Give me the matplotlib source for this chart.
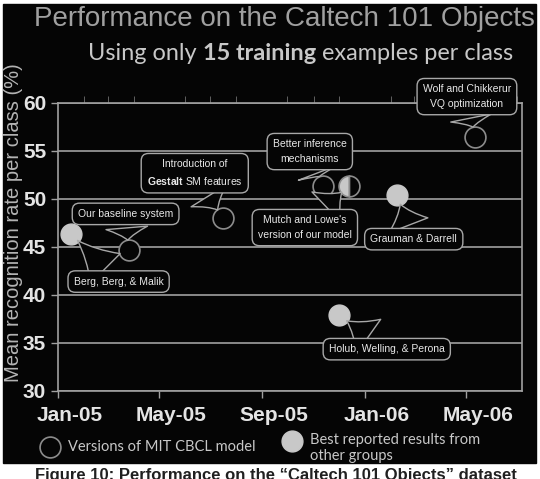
import matplotlib
matplotlib.use("Agg")
import matplotlib.dates as mdates
import matplotlib.pyplot as plt
import matplotlib.transforms as mtransforms
from matplotlib.lines import Line2D
from matplotlib.patches import Rectangle
import pandas as pd

# MIT CBCL model versions
cbcl_dates = ["2005-03-26", "2005-07-16", "2005-11-12", "2006-05-12"]
cbcl_rates = [44.7, 48.0, 51.4, 56.5]
# best reported results from other groups
other_dates = ["2005-01-16", "2005-12-01", "2006-02-08"]
other_rates = [46.4, 37.9, 50.4]
# Mutch and Lowe's version (half / half)
mutch_date = "2005-12-13"
mutch_rate = 51.4

callout_texts = [
    "Our baseline system",
    "Berg, Berg, & Malik",
    "Introduction of\n$\\bf{Gestalt}$ SM features",
    "Better inference\nmechanisms",
    "Mutch and Lowe's\nversion of our model",
    "Grauman & Darrell",
    "Holub, Welling, & Perona",
    "Wolf and Chikkerur\nVQ optimization",
]
callout_dates = [cbcl_dates[0], other_dates[0], cbcl_dates[1], cbcl_dates[2],
                 mutch_date, other_dates[2], other_dates[1], cbcl_dates[3]]
callout_rates = [cbcl_rates[0], other_rates[0], cbcl_rates[1], cbcl_rates[2],
                 mutch_rate, other_rates[2], other_rates[1], cbcl_rates[3]]
# box centre relative to the point, in pixels (layout only)
callout_offsets = [(-3, 36), (48, -48), (-28, 45), (-13, 34),
                   (-44, -42), (17, -44), (48, -34), (-8, 40)]

W, H = 540, 479
BG = "#050505"
LINE = "#a0a0a0"
LIGHT = "#c8c8c8"

plt.rcParams["mathtext.fontset"] = "custom"
plt.rcParams["mathtext.rm"] = "Liberation Sans"
plt.rcParams["mathtext.bf"] = "Liberation Sans:bold"

fig = plt.figure(figsize=(W / 100, H / 100), dpi=100, facecolor="white")
fig.patches.append(Rectangle((3 / W, 1 - 463 / H), 533 / W, 459 / H,
                             transform=fig.transFigure, color=BG, zorder=-10))

ax = fig.add_axes([58 / W, 1 - 391 / H, (522 - 58) / W, (391 - 103) / H])
ax.set_facecolor(BG)

ax.set_ylim(30, 60)
ax.set_xlim(pd.Timestamp("2005-01-01"), pd.Timestamp("2006-07-07"))
ax.set_yticks(range(30, 61, 5))
ax.yaxis.grid(True, color=LINE, lw=1.2)
ax.set_axisbelow(True)
for s in ax.spines.values():
    s.set_color(LINE)
    s.set_linewidth(1.2)

ax.xaxis.set_major_locator(mdates.MonthLocator(bymonth=[1, 5, 9]))
ax.xaxis.set_major_formatter(mdates.DateFormatter("%b-%y"))
ax.xaxis.set_minor_locator(mdates.MonthLocator())
ax.tick_params(axis="both", which="major", colors=LINE, length=5, width=1,
               labelcolor="#e4e4e4", labelsize=15)
ax.tick_params(axis="x", which="minor", top=True, bottom=False, length=5,
               color="#707070")
ax.tick_params(axis="x", pad=6)
for lab in ax.get_xticklabels() + ax.get_yticklabels():
    lab.set_fontfamily("Liberation Sans")
    lab.set_fontweight("bold")
shift = mtransforms.ScaledTranslation(0.12, 0, fig.dpi_scale_trans)
for lab in ax.get_xticklabels():
    lab.set_transform(lab.get_transform() + shift)

ax.set_ylabel("Mean recognition rate per class (%)", fontsize=14.5,
              color="#b4b4b4", family="Liberation Sans")
ax.yaxis.set_label_coords(-35 / (522 - 58), (391 - 223) / (391 - 103))

# points
ax.plot(pd.to_datetime(cbcl_dates), cbcl_rates, "o", ms=15, mfc=BG,
        mec="#8c8c8c", mew=1.2, zorder=3)
ax.plot(pd.to_datetime(other_dates), other_rates, "o", ms=15, mfc=LIGHT,
        mec=LIGHT, mew=1, zorder=3)
ax.plot([pd.Timestamp(mutch_date)], [mutch_rate], "o", ms=15, fillstyle="left",
        mfc=LIGHT, markerfacecoloralt=BG, mec="#8c8c8c", mew=1.2, zorder=3)

# speech-bubble callouts
for txt, d, r, (dx, dy) in zip(callout_texts, callout_dates, callout_rates,
                               callout_offsets):
    ax.annotate(txt, xy=(pd.Timestamp(d), r), xytext=(dx * 0.72, dy * 0.72),
                textcoords="offset points", ha="center", va="center",
                fontsize=7.5, family="Liberation Sans", color="#e8e8e8",
                linespacing=1.6, zorder=5, annotation_clip=False,
                bbox=dict(boxstyle="round,pad=0.55,rounding_size=0.7",
                          fc=BG, ec="#a8a8a8", lw=1),
                arrowprops=dict(arrowstyle="wedge,tail_width=4,shrink_factor=0.4",
                                fc=BG, ec="#a8a8a8", lw=1, shrinkB=7))

# titles
fig.text(284 / W, 1 - 19 / H, "Performance on the Caltech 101 Objects",
         ha="center", va="center", fontsize=20, color="#a0a0a0",
         family="Liberation Sans")
sub_font = "Lato"
sub_size = 16.9
t1 = fig.text(88 / W, 1 - 64 / H, "Using only ", ha="left", va="bottom",
              fontsize=sub_size, color=LIGHT, family=sub_font)
t2 = fig.text(0, 0, "15 training", ha="left", va="bottom", fontsize=sub_size,
              color=LIGHT, family=sub_font, fontweight="bold")
t3 = fig.text(0, 0, " examples per class", ha="left", va="bottom",
              fontsize=sub_size, color=LIGHT, family=sub_font)
fig.canvas.draw()
r = fig.canvas.get_renderer()
b1 = t1.get_window_extent(r)
t2.set_position((b1.x1 / fig.bbox.width, b1.y0 / fig.bbox.height))
b2 = t2.get_window_extent(r)
t3.set_position((b2.x1 / fig.bbox.width, b2.y0 / fig.bbox.height))

# legend
fig.add_artist(Line2D([50 / W], [1 - 447 / H], marker="o", ms=15, mfc=BG,
                      mec="#8c8c8c", mew=1.2, transform=fig.transFigure))
fig.text(68 / W, 1 - 447 / H, "Versions of MIT CBCL model", ha="left",
         va="center", fontsize=10.5, color=LIGHT, family=sub_font)
fig.add_artist(Line2D([292 / W], [1 - 441 / H], marker="o", ms=15, mfc=LIGHT,
                      mec=LIGHT, transform=fig.transFigure))
fig.text(310 / W, 1 - 448 / H, "Best reported results from\nother groups",
         ha="left", va="center", fontsize=10.5, color=LIGHT, family=sub_font,
         linespacing=1.1)

# caption of the source page, cut by the lower edge
fig.text(35 / W, 1 - 468 / H, "Figure 10: Performance on the \u201cCaltech 101 Objects\u201d dataset",
         ha="left", va="top", fontsize=12, color="#202020",
         family="Liberation Sans", fontweight="bold")

fig.savefig("out.png", dpi=100, facecolor="white")
